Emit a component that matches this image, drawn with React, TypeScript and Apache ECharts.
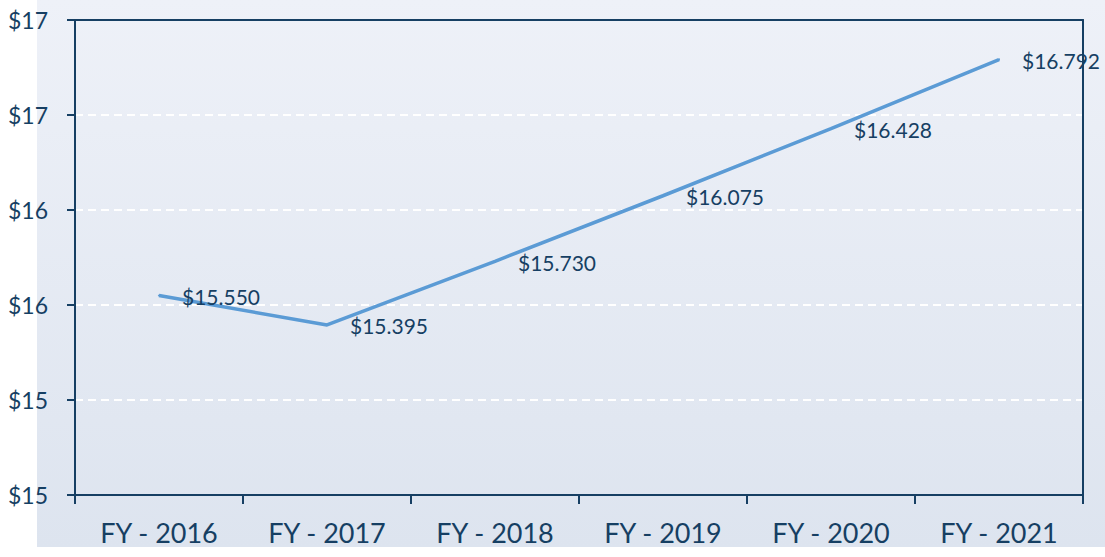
import React, { useEffect, useRef } from "react";
import * as echarts from "echarts";

const categories = ["FY - 2016", "FY - 2017", "FY - 2018", "FY - 2019", "FY - 2020", "FY - 2021"];
const values = [15.55, 15.395, 15.73, 16.075, 16.428, 16.792];

const NAVY = "#163f63";
const FONT = "Lato, 'Open Sans', sans-serif";

export default function App() {
  const ref = useRef<HTMLDivElement>(null);
  useEffect(() => {
    const chart = echarts.init(ref.current!, null, { renderer: "svg" });
    chart.setOption({
      animation: false,
      graphic: [
        {
          type: "rect",
          left: 37,
          top: 0,
          z: -10,
          shape: { width: 1105 - 37, height: 547 },
          style: {
            fill: new echarts.graphic.LinearGradient(0, 0, 0, 1, [
              { offset: 0, color: "#eef1f8" },
              { offset: 1, color: "#dde4ef" },
            ]),
          },
        },
      ],
      grid: {
        left: 75,
        right: 22,
        top: 20,
        bottom: 62,
        show: false,
      },
      xAxis: [
        {
          type: "category",
          data: categories,
          boundaryGap: true,
          axisLine: { show: true, lineStyle: { color: NAVY, width: 2 } },
          axisTick: { show: true, length: 9, lineStyle: { color: NAVY, width: 2 } },
          axisLabel: { color: NAVY, fontSize: 27, fontFamily: FONT, margin: 24 },
          splitLine: { show: false },
          z: 5,
        },
        {
          type: "category",
          data: categories,
          position: "top",
          axisLine: { show: true, lineStyle: { color: NAVY, width: 2 } },
          axisTick: { show: false },
          axisLabel: { show: false },
          splitLine: { show: false },
          z: 5,
        },
      ],
      yAxis: [
        {
          type: "value",
          min: 14.5,
          max: 17,
          interval: 0.5,
          axisLine: { show: true, lineStyle: { color: NAVY, width: 2 } },
          axisTick: { show: true, length: 8, lineStyle: { color: NAVY, width: 2 } },
          axisLabel: {
            color: NAVY,
            fontSize: 23,
            fontFamily: FONT,
            margin: 27,
            formatter: (v: number) => "$" + Math.round(v),
          },
          splitLine: { show: true, lineStyle: { color: "#ffffff", width: 2, type: [8, 5] } },
          z: 1,
        },
        {
          type: "value",
          position: "right",
          min: 14.5,
          max: 17,
          interval: 0.5,
          axisLine: { show: true, lineStyle: { color: NAVY, width: 2 } },
          axisTick: { show: false },
          axisLabel: { show: false },
          splitLine: { show: false },
          z: 5,
        },
      ],
      series: [
        {
          type: "line",
          data: values,
          symbol: "circle",
          symbolSize: 2,
          showSymbol: true,
          itemStyle: { color: "#5b9bd5" },
          lineStyle: { color: "#5b9bd5", width: 3.5 },
          z: 6,
          label: {
            show: true,
            position: "right",
            distance: 22,
            offset: [0, 1],
            color: NAVY,
            fontSize: 21,
            fontFamily: FONT,
            formatter: (p: any) => "$" + Number(p.value).toFixed(3),
          },
        },
      ],
    });
    return () => chart.dispose();
  }, []);
  return <div ref={ref} style={{ width: 1105, height: 557, position: "absolute", left: 0, top: 0 }} />;
}
